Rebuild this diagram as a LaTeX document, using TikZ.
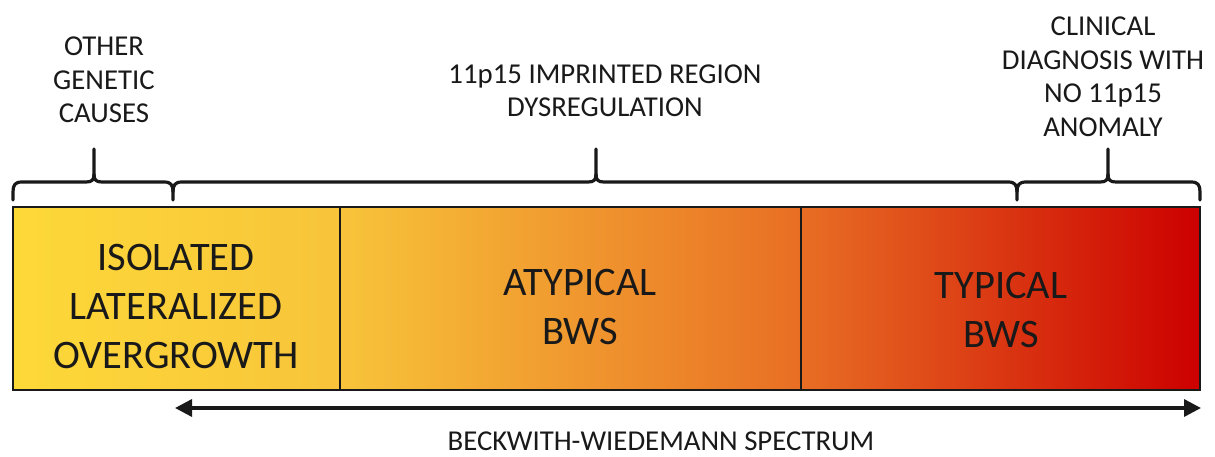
\documentclass[tikz,border=0pt]{standalone}
\usepackage{fontspec}
\setmainfont{Carlito}
\usetikzlibrary{arrows.meta}

\definecolor{cYellow}{RGB}{253,217,56}
\definecolor{cGold}{RGB}{248,196,58}
\definecolor{cOrange}{RGB}{232,110,36}
\definecolor{cRed}{RGB}{204,0,0}
\definecolor{ink}{RGB}{25,25,25}

\tikzset{
  cell/.style={draw=ink, line width=2.8pt},
  bigtext/.style={font=\fontsize{40.5}{49}\selectfont, align=center, inner sep=0pt, text=ink},
  smalltext/.style={font=\fontsize{28.8}{33.5}\selectfont, align=center, inner sep=0pt, text=ink},
  bracepath/.style={draw=ink, line width=3.2pt, line cap=round, line join=round},
  spanarrow/.style={draw=ink, line width=3.4pt, {Triangle[length=17pt,width=17pt]}-{Triangle[length=17pt,width=17pt]}}
}

\begin{document}
\begin{tikzpicture}[x=1pt,y=-1pt]
  \useasboundingbox (0,0) rectangle (1215,457);

  % gradient bar, three cells
  \path[left color=cYellow, right color=cGold] (13,207) rectangle (340,390);
  \path[left color=cGold, right color=cOrange] (340,207) rectangle (801,390);
  \path[left color=cOrange, right color=cRed] (801,207) rectangle (1200,390);
  \draw[cell] (13,207) rectangle (1200,390);
  \draw[cell] (340,207) -- (340,390);
  \draw[cell] (801,207) -- (801,390);

  % cell labels
  \node[bigtext] (iso) at (176,306) {ISOLATED\\LATERALIZED\\OVERGROWTH};
  \node[bigtext] (aty) at (580,307) {ATYPICAL\\BWS};
  \node[bigtext] (typ) at (1001,310) {TYPICAL\\BWS};

  % braces above the bar
  % left brace: 13 .. 173, tip at 94
  \draw[bracepath] (13,200) -- (13,192) .. controls (13,185) and (15,182) .. (22,182)
    -- (86,182) .. controls (92,182) and (94,180) .. (94,174) -- (94,149);
  \draw[bracepath] (94,174) .. controls (94,180) and (96,182) .. (102,182)
    -- (164,182) .. controls (171,182) and (173,185) .. (173,192) -- (173,200);
  % middle brace: 173 .. 1017, tip at 596
  \draw[bracepath] (173,192) .. controls (173,185) and (175,182) .. (182,182)
    -- (588,182) .. controls (594,182) and (596,180) .. (596,174) -- (596,149);
  \draw[bracepath] (596,174) .. controls (596,180) and (598,182) .. (604,182)
    -- (1008,182) .. controls (1015,182) and (1017,185) .. (1017,192) -- (1017,200);
  % right brace: 1017 .. 1200, tip at 1108
  \draw[bracepath] (1017,192) .. controls (1017,185) and (1019,182) .. (1026,182)
    -- (1100,182) .. controls (1106,182) and (1108,180) .. (1108,174) -- (1108,149);
  \draw[bracepath] (1108,174) .. controls (1108,180) and (1110,182) .. (1116,182)
    -- (1191,182) .. controls (1198,182) and (1200,185) .. (1200,192) -- (1200,200);

  % brace labels
  \node[smalltext] (other) at (104,80) {OTHER\\GENETIC\\CAUSES};
  \node[smalltext] (imprint) at (605,91) {11p15 IMPRINTED REGION\\DYSREGULATION};
  \node[smalltext] (clinical) at (1103,77) {CLINICAL\\DIAGNOSIS WITH\\NO 11p15\\ANOMALY};

  % spectrum arrow
  \coordinate (specL) at (175,408);
  \coordinate (specR) at (1201,408);
  \draw[spanarrow] (specL) -- (specR);
  \node[smalltext] (spectrum) at (661,441.5) {BECKWITH-WIEDEMANN SPECTRUM};
\end{tikzpicture}
\end{document}
